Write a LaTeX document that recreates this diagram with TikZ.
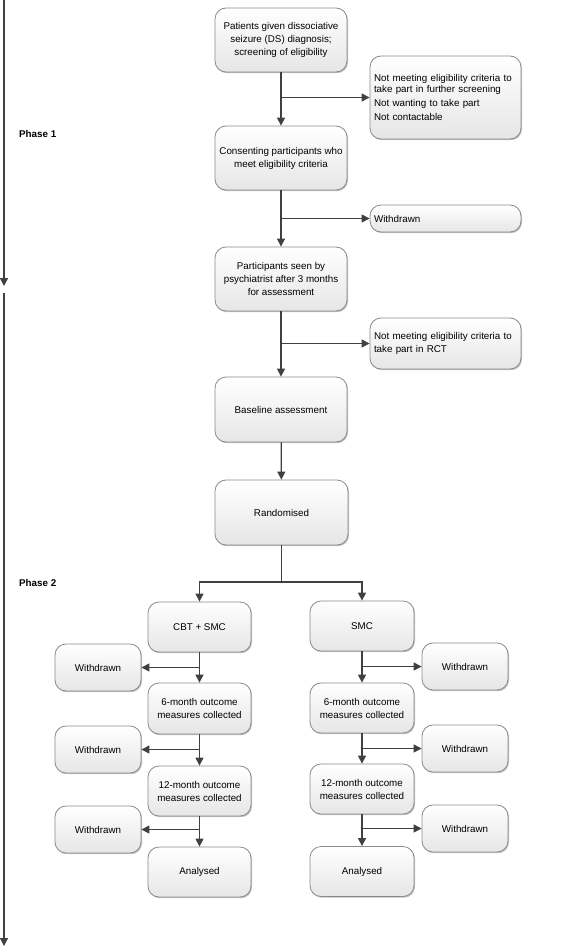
\documentclass[tikz,border=0pt]{standalone}
\usepackage{fontspec}
\setmainfont{Liberation Sans}
\usetikzlibrary{arrows.meta,shadows}
\definecolor{linec}{HTML}{404040}
\definecolor{borderc}{HTML}{8A8A8A}
\definecolor{boxbot}{HTML}{E6E6E6}
\tikzset{
  box/.style={draw=borderc, line width=0.8pt, rounded corners=11pt,
    top color=white, bottom color=boxbot, shading angle=0,
    drop shadow={shadow xshift=1pt, shadow yshift=-1.2pt, opacity=0.25, fill=black},
    inner sep=0pt, align=center, text=black,
    font=\fontsize{9.8}{13}\selectfont},
  sidebox/.style={box, align=left, text width=143pt, inner xsep=4pt},
  arr/.style={draw=linec, line width=1.2pt, -{Triangle[length=8pt,width=8pt]}},
  ln/.style={draw=linec, line width=1.2pt},
  phase/.style={font=\fontsize{9.8}{12}\selectfont\bfseries, anchor=west, inner sep=0pt}
}
\begin{document}
\begin{tikzpicture}[x=1pt,y=-1pt]
\useasboundingbox (0,0) rectangle (567,947);
% main column
\node[box, minimum width=132pt, minimum height=64pt] (b1) at (281,40)
  {Patients given dissociative\\seizure (DS) diagnosis;\\screening of eligibility};
\node[box, minimum width=132pt, minimum height=64pt] (b2) at (281,158)
  {Consenting participants who\\meet eligibility criteria};
\node[box, minimum width=132pt, minimum height=64pt] (b3) at (281,279)
  {Participants seen by\\psychiatrist after 3 months\\for assessment};
\node[box, minimum width=132pt, minimum height=65pt] (b4) at (281,409.5)
  {Baseline assessment};
\node[box, minimum width=133pt, minimum height=65pt] (b5) at (281.5,512.5)
  {Randomised};
% side boxes top
\node[sidebox, minimum width=151pt, minimum height=83pt, font=\fontsize{9.8}{11}\selectfont] (r1) at (445.5,97.5)
  {Not meeting eligibility criteria to\\take part in further screening\\[3pt]Not wanting to take part\\[3pt]Not contactable};
\node[sidebox, minimum width=151pt, minimum height=27pt] (w0) at (445.5,218.5) {Withdrawn};
\node[sidebox, minimum width=151pt, minimum height=51pt] (r2) at (445.5,343.5)
  {Not meeting eligibility criteria to\\take part in RCT};
% phase labels and arrows
\node[phase] (ph1) at (19,134) {Phase 1};
\node[phase] (ph2) at (19,583) {Phase 2};
\coordinate (p1s) at (4,0);
\coordinate (p1e) at (4,286);
\coordinate (p2s) at (4,293);
\coordinate (p2e) at (4,946);
\draw[arr] (p1s) -- (p1e);
\draw[arr] (p2s) -- (p2e);
% branch boxes left
\node[box, minimum width=103pt, minimum height=50pt] (cbt) at (199.5,627) {CBT + SMC};
\node[box, minimum width=103pt, minimum height=51pt] (l6) at (199.5,708.5) {6-month outcome\\measures collected};
\node[box, minimum width=103pt, minimum height=50pt] (l12) at (199.5,791) {12-month outcome\\measures collected};
\node[box, minimum width=103pt, minimum height=50pt] (la) at (199.5,872) {Analysed};
\node[box, minimum width=86pt, minimum height=47pt] (lw1) at (98,667.5) {Withdrawn};
\node[box, minimum width=86pt, minimum height=47pt] (lw2) at (98,749.5) {Withdrawn};
\node[box, minimum width=86pt, minimum height=47pt] (lw3) at (98,829.5) {Withdrawn};
% branch boxes right
\node[box, minimum width=104pt, minimum height=50pt] (smc) at (362,626) {SMC};
\node[box, minimum width=104pt, minimum height=50pt] (r6) at (362,708) {6-month outcome\\measures collected};
\node[box, minimum width=104pt, minimum height=50pt] (r12) at (362,789) {12-month outcome\\measures collected};
\node[box, minimum width=104pt, minimum height=50pt] (ra) at (362,871.5) {Analysed};
\node[box, minimum width=86pt, minimum height=47pt] (rw1) at (465,666.5) {Withdrawn};
\node[box, minimum width=86pt, minimum height=47pt] (rw2) at (465,748.5) {Withdrawn};
\node[box, minimum width=86pt, minimum height=47pt] (rw3) at (465,828.5) {Withdrawn};
% main connectors
\draw[arr] (b1) -- (b2);
\draw[arr] (b1.south |- r1.west) -- (r1.west);
\draw[arr] (b2) -- (b3);
\draw[arr] (b2.south |- w0.west) -- (w0.west);
\draw[arr] (b3) -- (b4);
\draw[arr] (b3.south |- r2.west) -- (r2.west);
\draw[arr] (b4) -- (b5);
\coordinate (split) at (281.5,582);
\draw[ln] (b5.south) -- (split);
\draw[arr] (split) -| (cbt.north);
\draw[arr] (split) -| (smc.north);
% left column connectors
\draw[arr] (cbt) -- (l6);
\draw[arr] (cbt.south |- lw1.east) -- (lw1.east);
\draw[arr] (l6) -- (l12);
\draw[arr] (l6.south |- lw2.east) -- (lw2.east);
\draw[arr] (l12) -- (la);
\draw[arr] (l12.south |- lw3.east) -- (lw3.east);
% right column connectors
\draw[arr] (smc) -- (r6);
\draw[arr] (smc.south |- rw1.west) -- (rw1.west);
\draw[arr] (r6) -- (r12);
\draw[arr] (r6.south |- rw2.west) -- (rw2.west);
\draw[arr] (r12) -- (ra);
\draw[arr] (r12.south |- rw3.west) -- (rw3.west);
\end{tikzpicture}
\end{document}
